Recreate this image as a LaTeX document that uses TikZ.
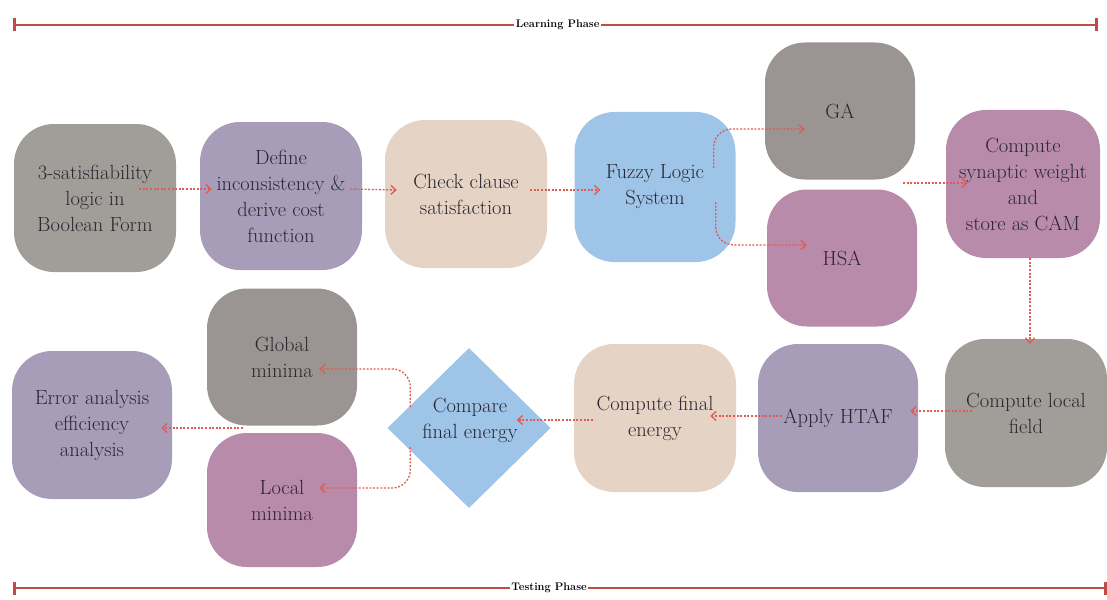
\documentclass[tikz,border=0pt]{standalone}
\usepackage{tikz}
\usetikzlibrary{arrows.meta,shapes.geometric,calc}

\definecolor{boxgray}{HTML}{A19E99}
\definecolor{boxdark}{HTML}{9A9592}
\definecolor{boxlilac}{HTML}{A79DB9}
\definecolor{boxsand}{HTML}{E5D3C5}
\definecolor{boxblue}{HTML}{9EC4E8}
\definecolor{boxmauve}{HTML}{B98BAA}
\definecolor{flowred}{HTML}{E25A55}
\definecolor{inkgray}{HTML}{2B2730}

\begin{document}
\begin{tikzpicture}[x=1pt,y=-1pt,
	every node/.style={font=\fontsize{20.5}{26}\selectfont,text=inkgray,align=center},
	blob/.style={rounded corners=40pt,minimum width=162pt,minimum height=148pt,inner sep=1pt},
	smallblob/.style={blob,minimum width=150pt,minimum height=137pt},
	flow/.style={flowred,line width=1.3pt,dash pattern=on 2pt off 1.6pt,-{Straight Barb[length=5pt,width=9pt]},rounded corners=18pt},
	phase/.style={flowred!85!black,line width=2.6pt,{Bar[width=13pt]}-{Bar[width=13pt]}},
	phaselabel/.style={fill=white,inner sep=1.5pt,font=\fontsize{11}{13}\bfseries,text=black}]
			\useasboundingbox (0,0) rectangle (1107,599);
			
			% learning row
			\node[blob,fill=boxgray] (sat) at (95,198) {3-satisfiability\\logic in\\Boolean Form};
			\node[blob,fill=boxlilac] (def) at (281,196) {Define\\inconsistency \&\\derive cost\\function};
			\node[blob,fill=boxsand] (check) at (466,194) {Check clause\\satisfaction};
			\node[blob,minimum width=161pt,minimum height=150pt,fill=boxblue] (fuzzy) at (655,187) {Fuzzy Logic\\System};
			\node[smallblob,fill=boxdark] (ga) at (840,111) {GA};
			\node[smallblob,fill=boxmauve] (hsa) at (842,258) {HSA};
			\node[blob,minimum width=154pt,fill=boxmauve] (weight) at (1023,184) {Compute\\synaptic weight\\and\\store as CAM};
			\coordinate (join) at (903,183);
			
			% testing row
			\node[blob,fill=boxgray] (field) at (1026,413) {Compute local\\field};
			\node[blob,minimum width=160pt,fill=boxlilac] (htaf) at (838,418) {Apply HTAF};
			\node[blob,fill=boxsand] (energy) at (655,418) {Compute final\\energy};
			\node[diamond,fill=boxblue,minimum width=163pt,minimum height=160pt,inner sep=0pt] (cmp) at (469,428) {};
			\node at (470,420) {Compare\\final energy};
			\node[smallblob,fill=boxdark] (global) at (282,357) {Global\\minima};
			\node[smallblob,minimum height=134pt,fill=boxmauve] (local) at (282,500) {Local\\minima};
			\node[blob,minimum width=160pt,minimum height=148pt,fill=boxlilac] (error) at (92,425) {Error analysis\\efficiency\\analysis};
			\coordinate (split) at (243,428);
			
			% dotted flow
			\draw[flow] ($(sat.east)+(-37,-9)$) -- ($(def.west)+(12,-7)$);
			\draw[flow] ($(def.east)+(-12,-7)$) -- ($(check.west)+(12,-4)$);
			\draw[flow] ($(check.east)+(-17,-4)$) -- ($(fuzzy.west)+(26,3)$);
			\draw[flow] ($(fuzzy.east)+(-22,-19)$) |- ($(ga.west)+(40,18)$);
			\draw[flow] ($(fuzzy.east)+(-20,15)$) |- ($(hsa.west)+(40,-13)$);
			\draw[flow] (join) -- ($(weight.west)+(22,-1)$);
			\draw[flow] ($(weight.south)+(7,0)$) -- ($(field.north)+(4,5)$);
			\draw[flow] ($(field.west)+(27,-2)$) -- ($(htaf.east)+(-8,-7)$);
			\draw[flow] ($(htaf.west)+(24,-2)$) -- ($(energy.east)+(-26,-2)$);
			\draw[flow] ($(energy.west)+(19,2)$) -- ($(cmp.east)+(-34,-8)$);
			\draw[flow] ($(cmp.west)+(23,-21)$) |- ($(global.east)+(-38,12)$);
			\draw[flow] ($(cmp.west)+(23,19)$) |- ($(local.east)+(-38,-12)$);
			\draw[flow] (split) -- ($(error.east)+(-11,3)$);
			
			% phase bars
			\draw[phase] (13,25) -- (1098,25) node[phaselabel,pos=0.502] {Learning Phase};
			\draw[phase] (13,588) -- (1107,588) node[phaselabel,pos=0.49] {Testing Phase};
\end{tikzpicture}
\end{document}
